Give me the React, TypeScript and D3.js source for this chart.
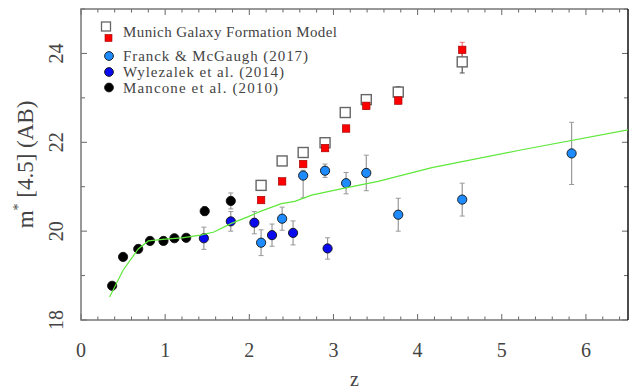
import React, { useEffect, useRef } from "react";
import * as d3 from "d3";

// model curve (green line)
const curveZ = [0.34, 0.5, 0.68, 0.8, 1.0, 1.2, 1.42, 1.58, 1.78, 1.98, 2.14, 2.38, 2.54, 2.74, 3.13, 3.53, 4.17, 5.21, 6.53];
const curveM = [18.52, 19.12, 19.6, 19.78, 19.82, 19.85, 19.91, 19.98, 20.17, 20.32, 20.45, 20.62, 20.67, 20.81, 20.97, 21.12, 21.43, 21.82, 22.29];

// Mancone et al. (2010)
const manconeZ = [0.37, 0.5, 0.68, 0.82, 0.98, 1.11, 1.25, 1.47, 1.78];
const manconeM = [18.77, 19.42, 19.6, 19.78, 19.78, 19.84, 19.85, 20.45, 20.68];
const manconeErr = [0.05, 0.05, 0.08, 0.05, 0.05, 0.06, 0.06, 0.1, 0.18];

// Wylezalek et al. (2014)
const wylezalekZ = [1.46, 1.78, 2.06, 2.27, 2.52, 2.93];
const wylezalekM = [19.84, 20.22, 20.19, 19.91, 19.96, 19.61];
const wylezalekErr = [0.25, 0.22, 0.25, 0.25, 0.27, 0.24];

// Franck & McGaugh (2017)
const franckZ = [2.14, 2.39, 2.64, 2.9, 3.15, 3.39, 3.77, 4.53, 5.83];
const franckM = [19.74, 20.28, 21.25, 21.36, 21.08, 21.31, 20.37, 20.71, 21.75];
const franckErrLo = [0.29, 0.26, 0.5, 0.15, 0.24, 0.4, 0.37, 0.37, 0.7];
const franckErrHi = [0.29, 0.26, 0.12, 0.15, 0.24, 0.4, 0.37, 0.37, 0.7];

// Munich Galaxy Formation Model
const munichOpenZ = [2.14, 2.39, 2.64, 2.9, 3.14, 3.39, 3.77, 4.53];
const munichOpenM = [21.03, 21.58, 21.77, 21.99, 22.67, 22.96, 23.13, 23.81];
const munichOpenErr = [0, 0, 0, 0, 0, 0.05, 0.12, 0.25];
const munichRedZ = [2.14, 2.39, 2.64, 2.9, 3.15, 3.39, 3.77, 4.53];
const munichRedM = [20.7, 21.12, 21.51, 21.87, 22.31, 22.82, 22.94, 24.08];
const munichRedErr = [0, 0, 0, 0, 0, 0.08, 0.08, 0.17];

const xTicks = [0, 1, 2, 3, 4, 5, 6];
const yTicks = [18, 20, 22, 24];

const legendLabels = [
  "Munich Galaxy Formation Model",
  "Franck & McGaugh (2017)",
  "Wylezalek et al. (2014)",
  "Mancone et al. (2010)",
];

const W = 640;
const H = 392;
const FONT = "'Liberation Serif', 'DejaVu Serif', serif";

export default function App() {
  const ref: any = useRef();

  useEffect(() => {
    document.body.style.margin = "0";
    const svg = d3.select(ref.current);
    svg.selectAll("*").remove();

    const left = 81, right = 628, top = 9, bottom = 320;
    const x = d3.scaleLinear().domain([0, 6.5]).range([left, right]);
    const y = d3.scaleLinear().domain([18, 25]).range([bottom, top]);

    svg.append("rect").attr("width", W).attr("height", H).attr("fill", "white");

    // ticks, all four sides, pointing in
    const ax = svg.append("g").attr("stroke", "#666").attr("stroke-width", 1);
    d3.range(0, 6.5001, 0.2).forEach((v) => {
      const major = Math.abs(v - Math.round(v)) < 1e-6;
      const len = major ? 6 : 3.5;
      ax.append("line").attr("x1", x(v)).attr("x2", x(v)).attr("y1", bottom).attr("y2", bottom - len);
      ax.append("line").attr("x1", x(v)).attr("x2", x(v)).attr("y1", top).attr("y2", top + len);
    });
    d3.range(18, 25.001, 1).forEach((v) => {
      const len = v % 2 === 0 ? 6 : 4;
      ax.append("line").attr("x1", left).attr("x2", left + len).attr("y1", y(v)).attr("y2", y(v));
      ax.append("line").attr("x1", right).attr("x2", right - len).attr("y1", y(v)).attr("y2", y(v));
    });

    // frame
    svg.append("path")
      .attr("d", `M${right},${top}H${left}V${bottom}H${right}`)
      .attr("fill", "none").attr("stroke", "#777").attr("stroke-width", 1.5);
    svg.append("line")
      .attr("x1", right).attr("x2", right).attr("y1", top).attr("y2", bottom)
      .attr("stroke", "#111").attr("stroke-width", 1.5);

    // tick labels
    xTicks.forEach((t) => {
      svg.append("text").attr("x", x(t)).attr("y", 357)
        .attr("text-anchor", "middle").attr("font-family", FONT).attr("font-size", 20)
        .attr("fill", "#444").text(t);
    });
    yTicks.forEach((t) => {
      svg.append("text").attr("transform", `translate(63,${y(t)}) rotate(-90)`)
        .attr("text-anchor", "middle").attr("font-family", FONT).attr("font-size", 20)
        .attr("fill", "#444").text(t);
    });

    // axis titles
    svg.append("text").attr("x", (left + right) / 2).attr("y", 386)
      .attr("text-anchor", "middle").attr("font-family", FONT).attr("font-size", 20)
      .attr("fill", "#444").text("z");
    const yl = svg.append("text").attr("transform", `translate(33,${(top + bottom) / 2}) rotate(-90)`)
      .attr("text-anchor", "middle").attr("font-family", FONT).attr("font-size", 23)
      .attr("fill", "#444");
    yl.append("tspan").text("m");
    yl.append("tspan").attr("dy", -10).attr("font-size", 14).text("*");
    yl.append("tspan").attr("dy", 10).text(" [4.5] (AB)");

    // error bars
    const errBar = (g: any, z: number, lo: number, hi: number, color: string) => {
      if (lo === 0 && hi === 0) return;
      g.append("line").attr("x1", x(z)).attr("x2", x(z)).attr("y1", y(lo)).attr("y2", y(hi))
        .attr("stroke", color).attr("stroke-width", 1.2);
      [lo, hi].forEach((v) => {
        g.append("line").attr("x1", x(z) - 2.5).attr("x2", x(z) + 2.5).attr("y1", y(v)).attr("y2", y(v))
          .attr("stroke", color).attr("stroke-width", 1);
      });
    };

    const eb = svg.append("g");
    manconeZ.forEach((z, i) => errBar(eb, z, manconeM[i] - manconeErr[i], manconeM[i] + manconeErr[i], "#999"));
    wylezalekZ.forEach((z, i) => errBar(eb, z, wylezalekM[i] - wylezalekErr[i], wylezalekM[i] + wylezalekErr[i], "#999"));
    franckZ.forEach((z, i) => errBar(eb, z, franckM[i] - franckErrLo[i], franckM[i] + franckErrHi[i], "#999"));
    munichOpenZ.forEach((z, i) => errBar(eb, z, munichOpenM[i] - munichOpenErr[i], munichOpenM[i] + munichOpenErr[i], "#555"));
    munichRedZ.forEach((z, i) => errBar(eb, z, munichRedM[i] - munichRedErr[i], munichRedM[i] + munichRedErr[i], "#f07070"));

    // squares
    const openSize = 10, redSize = 7.5;
    const sq = svg.append("g");
    munichOpenZ.forEach((z, i) => {
      sq.append("rect").attr("x", x(z) - openSize / 2).attr("y", y(munichOpenM[i]) - openSize / 2)
        .attr("width", openSize).attr("height", openSize)
        .attr("fill", "white").attr("stroke", "#666").attr("stroke-width", 1.4);
    });
    munichRedZ.forEach((z, i) => {
      sq.append("rect").attr("x", x(z) - redSize / 2).attr("y", y(munichRedM[i]) - redSize / 2)
        .attr("width", redSize).attr("height", redSize)
        .attr("fill", "#ff0000").attr("stroke", "#900").attr("stroke-width", 0.6);
    });

    // circles
    const dots = (zs: number[], ms: number[], fill: string) => {
      const g = svg.append("g");
      zs.forEach((z, i) => {
        g.append("circle").attr("cx", x(z)).attr("cy", y(ms[i])).attr("r", 4.6)
          .attr("fill", fill).attr("stroke", "#111").attr("stroke-width", 0.9);
      });
    };
    dots(manconeZ, manconeM, "#000");
    dots(wylezalekZ, wylezalekM, "#0a0aee");
    dots(franckZ, franckM, "#1e8cff");

    // model line
    const line: any = d3.line<number>()
      .x((d, i) => x(curveZ[i]))
      .y((d) => y(d));
    svg.append("path").datum(curveM).attr("d", line)
      .attr("fill", "none").attr("stroke", "#5ee83a").attr("stroke-width", 1.2)
      .attr("clip-path", "url(#plotClip)");
    const defs = svg.append("defs");
    defs.append("clipPath").attr("id", "plotClip").append("rect")
      .attr("x", left).attr("y", top).attr("width", right - left).attr("height", bottom - top);

    // legend
    const lg = svg.append("g");
    lg.append("rect").attr("x", 101.5).attr("y", 22).attr("width", 9).attr("height", 9)
      .attr("fill", "white").attr("stroke", "#666").attr("stroke-width", 1.3);
    lg.append("rect").attr("x", 105).attr("y", 34.5).attr("width", 7).attr("height", 7)
      .attr("fill", "#ff0000").attr("stroke", "#900").attr("stroke-width", 0.6);
    const legendY = [32, 56, 72, 87.5];
    const legendW = [214, 185, 161, 155];
    const legendFill = ["#1e8cff", "#0a0aee", "#000"];
    legendFill.forEach((c, i) => {
      lg.append("circle").attr("cx", 109).attr("cy", legendY[i + 1]).attr("r", 4.4)
        .attr("fill", c).attr("stroke", "#111").attr("stroke-width", 0.9);
    });
    legendLabels.forEach((t, i) => {
      lg.append("text").attr("x", 123).attr("y", legendY[i] + 5)
        .attr("font-family", FONT).attr("font-size", 15).attr("fill", "#444")
        .attr("textLength", legendW[i]).attr("lengthAdjust", "spacing")
        .text(t);
    });
  }, []);

  return <svg ref={ref} width={W} height={H} style={{ display: "block" }}></svg>;
}
